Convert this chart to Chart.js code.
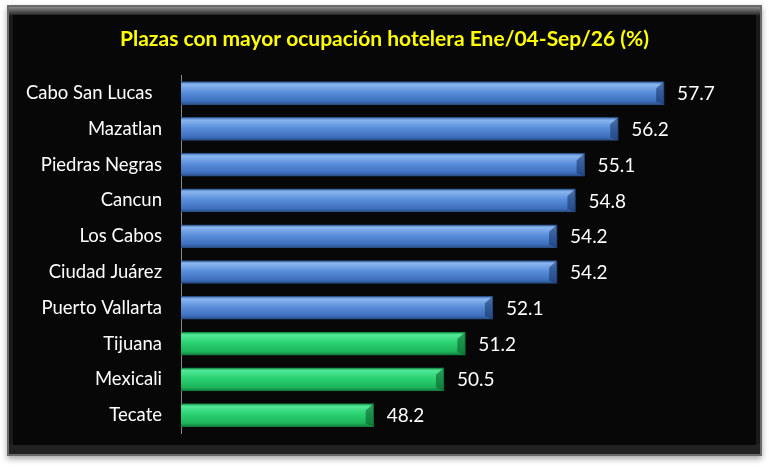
<!DOCTYPE html>
<html>
<head>
<meta charset="utf-8">
<script src="https://cdn.jsdelivr.net/npm/chart.js@4"></script>
<style>
  html, body { margin: 0; padding: 0; background: #fff; }
  #wrap { width: 769px; height: 468px; }
</style>
</head>
<body>
<div id="wrap"><canvas id="chartPlazas" width="769" height="468"></canvas></div>
<script>
// Plazas y ocupacion (%)
var plazas = ["Cabo San Lucas  ", "Mazatlan", "Piedras Negras", "Cancun", "Los Cabos",
              "Ciudad Juárez", "Puerto Vallarta", "Tijuana", "Mexicali", "Tecate"];
var ocupacion = [57.7, 56.2, 55.1, 54.8, 54.2, 54.2, 52.1, 51.2, 50.5, 48.2];
// true = frontera (barras verdes)
var frontera = [false, false, false, false, false, false, false, true, true, true];

var BAR_H = 23;

function barFill(context) {
  var chart = context.chart;
  var y = chart.scales.y;
  var green = frontera[context.dataIndex];
  if (!y || y.top === undefined) return green ? "#22c765" : "#4a80cf";
  var cy = y.getPixelForValue(context.dataIndex);
  var g = chart.ctx.createLinearGradient(0, cy - BAR_H / 2, 0, cy + BAR_H / 2);
  if (green) {
    g.addColorStop(0, "#1a9a4e");
    g.addColorStop(0.12, "#52e898");
    g.addColorStop(0.45, "#2bd271");
    g.addColorStop(0.85, "#1cb55c");
    g.addColorStop(1, "#137a3d");
  } else {
    g.addColorStop(0, "#3a69ad");
    g.addColorStop(0.12, "#8ab6ef");
    g.addColorStop(0.45, "#5a8fdb");
    g.addColorStop(0.85, "#3d6fbd");
    g.addColorStop(1, "#284e86");
  }
  return g;
}

// fondo negro con borde
var panel = {
  id: "panel",
  beforeDraw: function (chart) {
    var c = chart.ctx;
    c.save();
    c.fillStyle = "#ffffff";
    c.fillRect(0, 0, chart.width, chart.height);
    c.shadowColor = "rgba(0,0,0,0.35)";
    c.shadowBlur = 6;
    c.shadowOffsetY = 3;
    c.fillStyle = "#6a6a6a";
    c.fillRect(7, 5, 755, 451);
    c.shadowColor = "transparent";
    var top = c.createLinearGradient(0, 7, 0, 16);
    top.addColorStop(0, "#8a8a8a");
    top.addColorStop(1, "#1a1a1a");
    c.fillStyle = top;
    c.fillRect(9, 7, 751, 447);
    c.fillStyle = "#222";
    c.fillRect(9, 444, 751, 10);
    c.fillStyle = "#070707";
    c.fillRect(13, 15, 743, 430);
    c.restore();
  }
};

// bisel al final de la barra + etiquetas de valor
var extras = {
  id: "extras",
  afterDatasetsDraw: function (chart) {
    var c = chart.ctx;
    var meta = chart.getDatasetMeta(0);
    c.save();
    meta.data.forEach(function (bar, i) {
      var top = bar.y - BAR_H / 2, bot = bar.y + BAR_H / 2;
      c.fillStyle = frontera[i] ? "rgba(10,90,40,0.55)" : "rgba(20,50,100,0.55)";
      c.beginPath();
      c.moveTo(bar.x, top);
      c.lineTo(bar.x - 8, top + 7);
      c.lineTo(bar.x - 8, bot - 3);
      c.lineTo(bar.x, bot);
      c.closePath();
      c.fill();
      c.fillStyle = "#ffffff";
      c.font = "19px Lato";
      c.textAlign = "left";
      c.textBaseline = "middle";
      c.fillText(ocupacion[i].toFixed(1), bar.x + 13, bar.y + 1);
    });
    c.restore();
  }
};

var ctx = document.getElementById("chartPlazas");
var chartPlazas = new Chart(ctx, {
  type: "bar",
  data: {
    labels: plazas,
    datasets: [{
      data: ocupacion,
      backgroundColor: barFill,
      borderColor: function (context) { return frontera[context.dataIndex] ? "#12803e" : "#2a4f86"; },
      borderWidth: 1,
      borderSkipped: "left",
      barThickness: BAR_H
    }]
  },
  plugins: [panel, extras],
  options: {
    indexAxis: "y",
    responsive: false,
    animation: false,
    layout: { padding: { left: 0, right: 0, top: 0, bottom: 35 } },
    plugins: {
      legend: { display: false },
      tooltip: { enabled: false },
      title: {
        display: true,
        text: "Plazas con mayor ocupación hotelera Ene/04-Sep/26 (%)",
        color: "#ffff00",
        font: { family: "Lato", size: 21, weight: "bold" },
        padding: { top: 27, bottom: 23 }
      }
    },
    scales: {
      x: {
        display: false,
        min: 41.9,
        max: 61.13
      },
      y: {
        afterFit: function (s) { s.width = 181; },
        grid: { display: false, drawTicks: false },
        border: { display: true, color: "#8a8a8a", width: 1 },
        ticks: {
          color: "#ffffff",
          padding: 19,
          font: { family: "Lato", size: 18.5 }
        }
      }
    }
  }
});
</script>
</body>
</html>
